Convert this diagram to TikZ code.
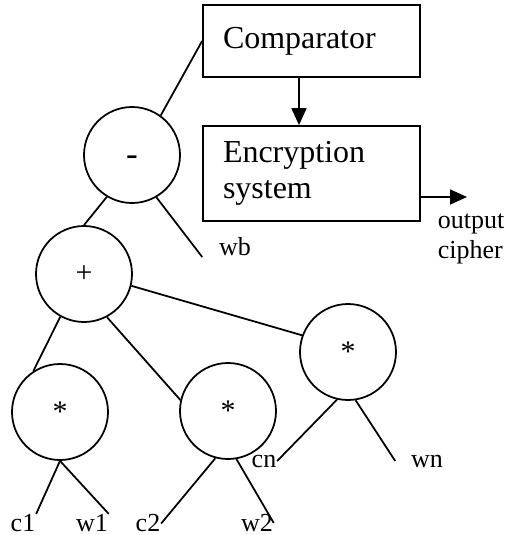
\documentclass[tikz,border=0pt]{standalone}
\usepackage{fontspec}
\setmainfont{Liberation Serif}
\usetikzlibrary{arrows.meta}
\tikzset{every path/.style={black,line width=1pt}, every node/.style={inner sep=0pt}}
\tikzset{op/.style={draw,circle,minimum size=1.92cm,font=\fontsize{17}{19}\selectfont},
  blk/.style={draw,rectangle,minimum width=4.34cm,text width=3.54cm,inner xsep=0.4cm,align=left,font=\fontsize{18.2}{20.5}\selectfont},
  lbl/.style={font=\fontsize{14.8}{17}\selectfont},
  tip/.style={-{Triangle[length=0.34cm,width=0.3cm]}}}

\begin{document}
\begin{tikzpicture}
   \useasboundingbox (0,0) rectangle (10.2,-10.7);
   \node[blk,minimum height=1.44cm] (comp) at (6.23,-0.82) {Comparator};
   \node[blk,minimum height=1.9cm] (enc) at (6.23,-3.47) {Encryption\\system};
   \coordinate (outend) at (9.34,-3.94);
   \node[lbl,anchor=base west] (out) at (8.74,-4.56) {output};
   \node[lbl,anchor=base west] (ciph) at (8.74,-5.16) {cipher};

   \node[op,font=\fontsize{20}{22}\selectfont] (minus) at (2.64,-3.1) {\raisebox{-0.3em}[0pt][0pt]{-}};
   \node[op] (plus) at (1.68,-5.48) {+};
   \node[op] (m1) at (1.2,-8.24) {*};
   \node[op] (m2) at (4.56,-8.22) {*};
   \node[op] (m3) at (6.96,-7.04) {*};

   \node[lbl] (wb) at (4.7,-4.94) {wb};
   \node[lbl] (c1) at (0.46,-10.47) {c1};
   \node[lbl] (w1) at (1.84,-10.47) {w1};
   \node[lbl] (c2) at (2.96,-10.47) {c2};
   \node[lbl] (w2) at (5.14,-10.46) {w2};
   \node[lbl] (cn) at (5.28,-9.22) {cn};
   \node[lbl] (wn) at (8.54,-9.22) {wn};

   \draw[tip] ([xshift=-0.25cm]comp.south) -- ([xshift=-0.25cm]enc.north);
   \draw[tip] (enc.east |- outend) -- (outend);

   \draw (minus.54) -- (comp.west);
   \draw (minus.239) -- (plus.north);
   \draw (minus.300) -- ([xshift=-0.32cm]wb.south west);
   \draw (plus.241) -- (m1.123);
   \draw (plus.298) -- (m2.167);
   \draw (plus.346) -- (m3.160);
   \draw (m1.south) -- (c1.north east);
   \draw (m1.south) -- (w1.north east);
   \draw (m2.255) -- (c2.east);
   \draw (m2.280) -- (w2.east);
   \draw (m3.257) -- (cn.east);
   \draw (m3.279) -- ([xshift=-0.3cm]wn.west);
  \end{tikzpicture}
\end{document}
